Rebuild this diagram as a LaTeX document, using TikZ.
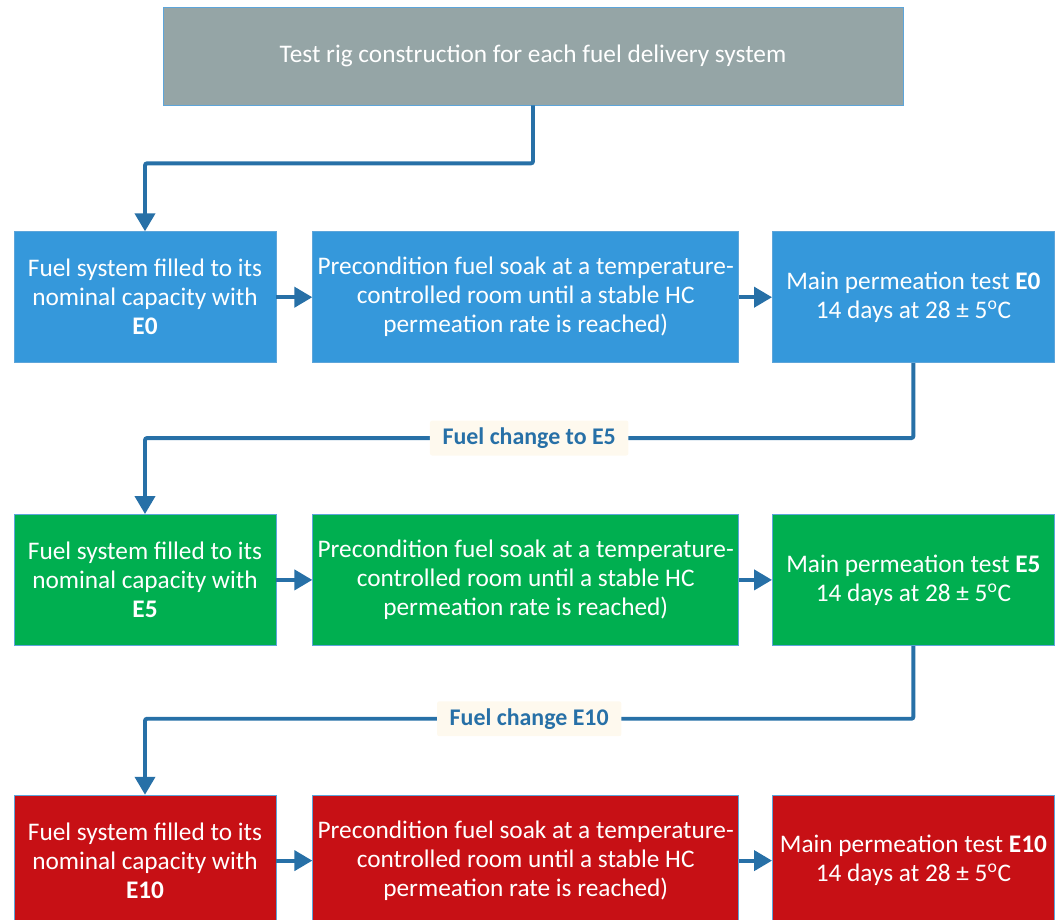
\documentclass[tikz,border=0pt]{standalone}
\usepackage{fontspec}
\setmainfont{Carlito}
\usetikzlibrary{arrows.meta, positioning}
\definecolor{RigGray}{HTML}{95A5A6}
\definecolor{StageBlue}{HTML}{3598DB}
\definecolor{StageGreen}{HTML}{00AF50}
\definecolor{StageRed}{HTML}{C71015}
\definecolor{EdgeBlue}{HTML}{5DA5DA}
\definecolor{FlowBlue}{HTML}{2770A7}
\definecolor{Cream}{HTML}{FEF9EE}

\begin{document}
\begin{tikzpicture}[
    rig/.style={
        draw=EdgeBlue, line width=0.5pt, fill=RigGray, text=white,
        minimum width=18.5cm, minimum height=2.45cm, inner sep=2pt,
        align=center, font=\fontsize{18}{20.6}\selectfont
    },
    stage/.style={
        draw=EdgeBlue, line width=0.5pt, text=white,
        minimum height=3.275cm, inner sep=2pt,
        align=center, font=\fontsize{18}{20.6}\selectfont
    },
    arr/.style={-{Triangle[length=4.5mm, width=5mm]}, line width=2.8pt, FlowBlue},
    flow/.style={arr, rounded corners=1.5pt},
    lbl/.style={fill=Cream, text=FlowBlue, inner xsep=9pt, inner ysep=5pt,
        font=\fontsize{17}{20}\selectfont\bfseries}
]
\useasboundingbox (0,0) rectangle (26.425,-22.975);

% =============================================
% TOP: RIG CONSTRUCTION
% =============================================
\node[rig] (rig) at (13.325,-1.4) {Test rig construction for each fuel delivery system};

% =============================================
% ROW 1: E0
% =============================================
\node[stage, fill=StageBlue, minimum width=6.55cm, below=3.15cm of rig, xshift=-9.7cm] (fillE0)
    {Fuel system filled to its\\nominal capacity with\\\textbf{E0}};
\node[stage, fill=StageBlue, minimum width=10.65cm, right=0.9cm of fillE0] (soakE0)
    {Precondition fuel soak at a temperature-\\controlled room until a stable HC\\permeation rate is reached)};
\node[stage, fill=StageBlue, minimum width=7.05cm, right=0.825cm of soakE0] (testE0)
    {Main permeation test \textbf{E0}\\14 days at 28 ± 5\textsuperscript{o}C};

\draw[flow] (rig.south) -- ++(0,-1.45) -| (fillE0.north);
\draw[arr] (fillE0) -- (soakE0);
\draw[arr] (soakE0) -- (testE0);

% =============================================
% ROW 2: E5
% =============================================
\node[stage, fill=StageGreen, minimum width=6.55cm, below=3.775cm of fillE0] (fillE5)
    {Fuel system filled to its\\nominal capacity with\\\textbf{E5}};
\node[stage, fill=StageGreen, minimum width=10.65cm, right=0.9cm of fillE5] (soakE5)
    {Precondition fuel soak at a temperature-\\controlled room until a stable HC\\permeation rate is reached)};
\node[stage, fill=StageGreen, minimum width=7.05cm, right=0.825cm of soakE5] (testE5)
    {Main permeation test \textbf{E5}\\14 days at 28 ± 5\textsuperscript{o}C};

\draw[flow] (testE0.south) -- ++(0,-1.875) -| node[lbl, pos=0.25] {Fuel change to E5} (fillE5.north);
\draw[arr] (fillE5) -- (soakE5);
\draw[arr] (soakE5) -- (testE5);

% =============================================
% ROW 3: E10
% =============================================
\node[stage, fill=StageRed, minimum width=6.55cm, below=3.725cm of fillE5] (fillE10)
    {Fuel system filled to its\\nominal capacity with\\\textbf{E10}};
\node[stage, fill=StageRed, minimum width=10.65cm, right=0.9cm of fillE10] (soakE10)
    {Precondition fuel soak at a temperature-\\controlled room until a stable HC\\permeation rate is reached)};
\node[stage, fill=StageRed, minimum width=7.05cm, right=0.825cm of soakE10] (testE10)
    {Main permeation test \textbf{E10}\\14 days at 28 ± 5\textsuperscript{o}C};

\draw[flow] (testE5.south) -- ++(0,-1.825) -| node[lbl, pos=0.25] {Fuel change E10} (fillE10.north);
\draw[arr] (fillE10) -- (soakE10);
\draw[arr] (soakE10) -- (testE10);

\end{tikzpicture}
\end{document}
